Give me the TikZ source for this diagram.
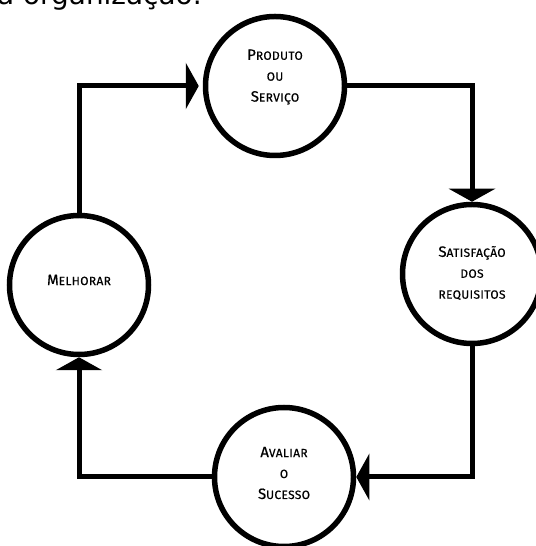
\documentclass[tikz,border=0pt]{standalone}
\usepackage{fontspec}
\setmainfont{Fira Sans}[FakeBold=0.6]
\newfontfamily\introfont{DejaVu Sans}
\usetikzlibrary{arrows.meta}

% first letter large, the rest as small capitals
\newcommand{\capw}[2]{{\fontsize{15}{21}\selectfont #1}{\fontsize{12}{21}\selectfont\addfontfeatures{LetterSpace=3}#2}}

\tikzset{
  stage/.style={circle, draw, line width=5.5bp, minimum size=139bp, inner sep=0pt},
  stagetext/.style={align=center, inner sep=0pt, font=\fontsize{15}{21}\selectfont},
  flow/.style={line width=5bp, line join=miter, -{Triangle[width=46bp,length=13bp]}},
}

\begin{document}
\begin{tikzpicture}[x=1bp,y=1bp]
\useasboundingbox (0,0) rectangle (536,546);
\begin{scope}
\clip (0,0) rectangle (536,546);

% cut line of the surrounding text
\node[anchor=base west, inner sep=0pt, font=\introfont\fontsize{28}{30}\selectfont] (intro) at (-3,541) {a organização:};

% the four stages of the cycle
\node[stage] (prod) at (275,460) {};
\node[stage] (sat)  at (472,272) {};
\node[stage] (aval) at (284,69)  {};
\node[stage] (melh) at (79,261)  {};

\node[stagetext] (prodlbl) at (275,469) {\capw{P}{RODUTO}\\\capw{}{OU}\\\capw{S}{ERVIÇO}};
\node[stagetext] (satlbl)  at (472,273) {\capw{S}{ATISFAÇÃO}\\\capw{}{DOS}\\\capw{}{REQUISITOS}};
\node[stagetext] (avallbl) at (284,73)  {\capw{A}{VALIAR}\\\capw{}{O}\\\capw{S}{UCESSO}};
\node[stagetext] (melhlbl) at (79,266)  {\capw{M}{ELHORAR}};

% connectors
\draw[flow] (prod.east) -| (sat.north);
\draw[flow] (sat.south) |- (aval.east);
\draw[flow] (aval.west) -| (melh.south);
\draw[flow, shorten >=4bp] (melh.north) |- (prod.west);
\end{scope}
\end{tikzpicture}
\end{document}
